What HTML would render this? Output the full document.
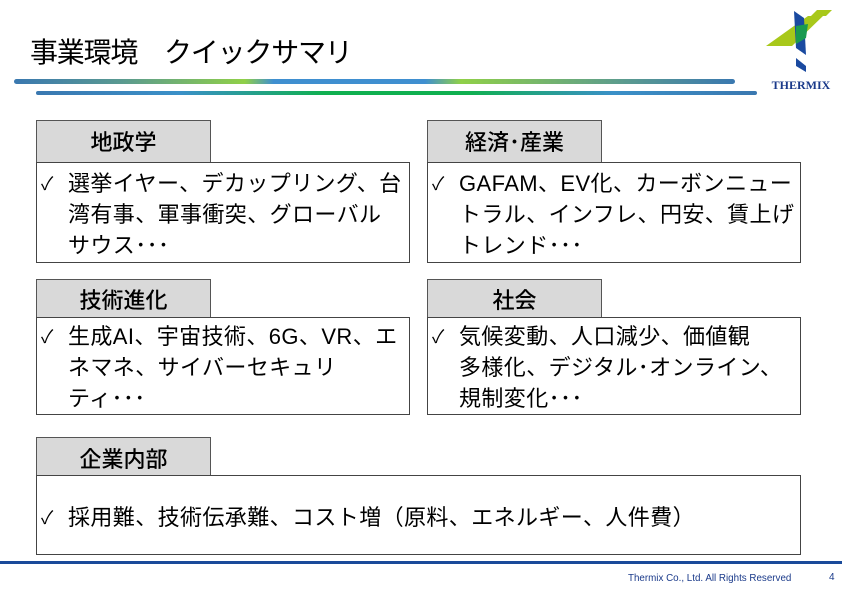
<!DOCTYPE html>
<html><head><meta charset="utf-8"><style>
body{margin:0;width:842px;height:595px;background:#fff;position:relative;overflow:hidden;font-family:"Liberation Sans","Noto Sans CJK JP",sans-serif;}
.a{position:absolute;}
.tab{position:absolute;background:#d9d9d9;border:1px solid #555;box-sizing:border-box;font-size:22px;text-align:center;line-height:44px;color:#000;font-weight:500;}
.box{position:absolute;border:1px solid #444;box-sizing:border-box;background:#fff;font-size:22px;line-height:31px;color:#000;}
.box .c{position:absolute;left:4px;font-size:18px;}
.box .t{position:absolute;left:31px;white-space:nowrap;letter-spacing:0.4px;}
</style></head><body>
<div class="a" style="left:30px;top:33px;font-size:28px;line-height:40px;letter-spacing:-1.2px;">事業環境　クイックサマリ</div>
<div class="a" style="left:14px;top:79px;width:721px;height:5px;border-radius:3px;background:linear-gradient(90deg,#3a78b0,#5a9a90 15%,#90d048 32%,#3f8fd0 36%,#3f8fd0 57%,#90d048 62%,#5a9a90 85%,#3a78b0)"></div>
<div class="a" style="left:36px;top:91px;width:721px;height:4px;border-radius:2px;background:linear-gradient(90deg,#3a78b0,#3a90c8 20%,#10b050 40%,#10b050 60%,#3a90c8 80%,#3a78b0)"></div>
<svg class="a" style="left:760px;top:0" width="82" height="100">
<polygon points="808,16 823,16 792,46 766,46" transform="translate(-760,0)" fill="#a8c81a"/>
<polygon points="817,10 832,10 826,16 811,16" transform="translate(-760,0)" fill="#a8c81a"/>
<polygon points="794,11 804,18 806,55 796,48" transform="translate(-760,0)" fill="#1a4aa0"/>
<polygon points="796,58 806,66 806,72 796,66" transform="translate(-760,0)" fill="#1a4aa0"/>
<polygon points="796,26 808,24 806,38 796,44" transform="translate(-760,0)" fill="#1a9a50"/>
<text x="41" y="89" text-anchor="middle" font-family="Liberation Serif" font-weight="bold" font-size="12" fill="#1a3a8a">THERMIX</text>
</svg>

<div class="tab" style="left:36px;top:120px;width:175px;height:43px;">地政学</div>
<div class="box" style="left:36px;top:162px;width:374px;height:101px;">
<span class="c" style="top:6px">✓</span><span class="t" style="top:5px">選挙イヤー、デカップリング、台<br>湾有事、軍事衝突、グローバル<br>サウス･･･</span></div>

<div class="tab" style="left:427px;top:120px;width:175px;height:43px;">経済･産業</div>
<div class="box" style="left:427px;top:162px;width:374px;height:101px;">
<span class="c" style="top:6px">✓</span><span class="t" style="top:5px">GAFAM、EV化、カーボンニュー<br>トラル、インフレ、円安、賃上げ<br>トレンド･･･</span></div>

<div class="tab" style="left:36px;top:279px;width:175px;height:39px;line-height:42px;">技術進化</div>
<div class="box" style="left:36px;top:317px;width:374px;height:98px;">
<span class="c" style="top:4px">✓</span><span class="t" style="top:3px">生成AI、宇宙技術、6G、VR、エ<br>ネマネ、サイバーセキュリ<br>ティ･･･</span></div>

<div class="tab" style="left:427px;top:279px;width:175px;height:39px;line-height:42px;">社会</div>
<div class="box" style="left:427px;top:317px;width:374px;height:98px;">
<span class="c" style="top:4px">✓</span><span class="t" style="top:3px">気候変動、人口減少、価値観<br>多様化、デジタル･オンライン、<br>規制変化･･･</span></div>

<div class="tab" style="left:36px;top:437px;width:175px;height:39px;line-height:44px;">企業内部</div>
<div class="box" style="left:36px;top:475px;width:765px;height:80px;">
<span class="c" style="top:27px">✓</span><span class="t" style="top:26px">採用難、技術伝承難、コスト増（原料、エネルギー、人件費）</span></div>

<div class="a" style="left:0;top:561px;width:842px;height:3px;background:#1a4a9a"></div>
<div class="a" style="left:628px;top:573px;font-size:9.8px;color:#1a3a8a;">Thermix Co., Ltd. All Rights Reserved</div>
<div class="a" style="left:829px;top:572px;font-size:10px;color:#1a3a8a;">4</div>
</body></html>
